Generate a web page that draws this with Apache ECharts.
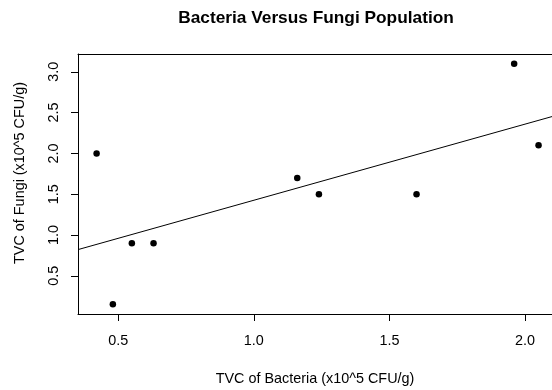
<!DOCTYPE html>
<html>
<head>
<meta charset="utf-8">
<script src="https://cdn.jsdelivr.net/npm/echarts@6/dist/echarts.min.js"></script>
<style>
html,body{margin:0;padding:0;background:#fff;}
#chart{width:552px;height:390px;}
</style>
</head>
<body>
<div id="chart"></div>
<script>
// Data
const bacteria = [0.42, 0.48, 0.55, 0.63, 1.16, 1.24, 1.60, 1.96, 2.05];
const fungi    = [2.00, 0.15, 0.90, 0.90, 1.70, 1.50, 1.50, 3.10, 2.10];
const xTicks = [0.5, 1.0, 1.5, 2.0];
const yTicks = [0.5, 1.0, 1.5, 2.0, 2.5, 3.0];
const titleText = 'Bacteria Versus Fungi Population';
const xName = 'TVC of Bacteria (x10^5 CFU/g)';
const yName = 'TVC of Fungi (x10^5 CFU/g)';

// Visible axis extents (plot box is cropped at the right edge of the image)
const xMin = 0.3514, xMax = 2.0996;
const yMin = 0.032, yMax = 3.218;

// least-squares fit from the data
const n = bacteria.length;
const mx = bacteria.reduce((a, b) => a + b, 0) / n;
const my = fungi.reduce((a, b) => a + b, 0) / n;
let sxy = 0, sxx = 0;
for (let i = 0; i < n; i++) {
  sxy += (bacteria[i] - mx) * (fungi[i] - my);
  sxx += (bacteria[i] - mx) * (bacteria[i] - mx);
}
const slope = sxy / sxx;
const intercept = my - slope * mx;
const fitLine = [[xMin, intercept + slope * xMin], [xMax, intercept + slope * xMax]];

const points = bacteria.map((x, i) => [x, fungi[i]]);
const FONT = '"Liberation Sans", Arial, sans-serif';

const chart = echarts.init(document.getElementById('chart'), null, {renderer: 'canvas'});
chart.setOption({
  animation: false,
  backgroundColor: '#fff',
  grid: {
    left: 78, top: 54, right: 0, bottom: 76, show: false
  },
  xAxis: [{
    type: 'value', min: xMin, max: xMax, position: 'bottom',
    axisLine: {show: true, onZero: false, lineStyle: {color: '#000', width: 1}},
    splitLine: {show: false},
    axisTick: {show: true, inside: false, length: 7, customValues: xTicks, lineStyle: {color: '#000'}},
    axisLabel: {
      customValues: xTicks, margin: 20,
      formatter: v => Number(v).toFixed(1),
      color: '#000', fontSize: 14.4, fontFamily: FONT
    }
  }, {
    type: 'value', min: xMin, max: xMax, position: 'top',
    axisLine: {show: true, onZero: false, lineStyle: {color: '#000', width: 1}},
    splitLine: {show: false}, axisTick: {show: false}, axisLabel: {show: false}
  }],
  yAxis: {
    type: 'value', min: yMin, max: yMax,
    axisLine: {show: true, onZero: false, lineStyle: {color: '#000', width: 1}},
    splitLine: {show: false},
    axisTick: {show: true, inside: false, length: 7, customValues: yTicks, lineStyle: {color: '#000'}},
    axisLabel: {
      customValues: yTicks, margin: 17, rotate: 90,
      formatter: v => Number(v).toFixed(1),
      color: '#000', fontSize: 14.4, fontFamily: FONT
    }
  },
  graphic: [
    {type: 'text', x: 316, y: 18,
     style: {text: titleText, align: 'center', verticalAlign: 'middle',
             font: 'bold 17.3px ' + FONT, fill: '#000'}},
    {type: 'text', x: 315, y: 379,
     style: {text: xName, align: 'center', verticalAlign: 'middle',
             font: '14.4px ' + FONT, fill: '#000'}},
    {type: 'text', x: 20, y: 173, rotation: Math.PI / 2,
     style: {text: yName, align: 'center', verticalAlign: 'middle',
             font: '14.4px ' + FONT, fill: '#000'}}
  ],
  series: [
    {
      type: 'line', data: fitLine, symbol: 'none', silent: true,
      lineStyle: {color: '#000', width: 1}, z: 2
    },
    {
      type: 'scatter', data: points, symbol: 'circle', symbolSize: 6.5,
      itemStyle: {color: '#000', opacity: 1}, z: 3
    }
  ]
});
</script>
</body>
</html>
